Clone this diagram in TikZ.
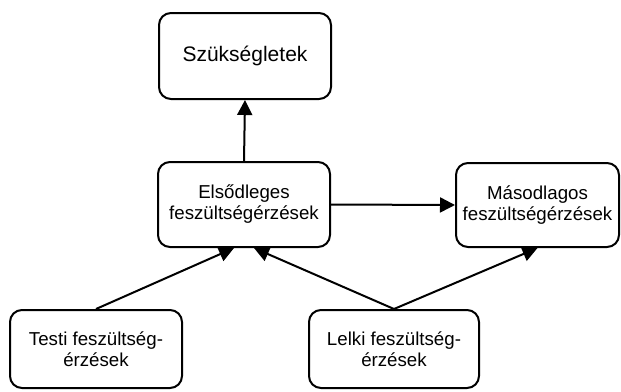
\documentclass[tikz,border=0pt]{standalone}
\usepackage{fontspec}
\setmainfont{Liberation Sans}
\usetikzlibrary{arrows.meta}

\tikzset{
    doboz/.style={draw=black, line width=2pt, rounded corners=12pt, fill=white,
        align=center, inner sep=0pt, font=\fontsize{18.7}{21}\selectfont},
    nyil/.style={line width=2pt, -{Triangle[length=15pt,width=15pt]}}
}

\begin{document}
\begin{tikzpicture}[x=1pt,y=-1pt]
    \useasboundingbox (0,0) rectangle (621,391);

    % felso sor
    \node[doboz, minimum width=172pt, minimum height=86pt, font=\fontsize{21}{24}\selectfont] (szuks) at (245,56) {Szükségletek};

    % kozepso sor
    \node[doboz, minimum width=172pt, minimum height=85pt] (elso) at (244,204.5) {Elsődleges\\feszültségérzések};
    \node[doboz, minimum width=163pt, minimum height=84pt] (masod) at (537.5,205) {Másodlagos\\feszültségérzések};

    % also sor
    \node[doboz, minimum width=172pt, minimum height=78pt] (testi) at (96,349) {Testi feszültség-\\érzések};
    \node[doboz, minimum width=170pt, minimum height=78pt] (lelki) at (394,349) {Lelki feszültség-\\érzések};

    \draw[nyil] (elso.north) -- (szuks.south);
    \draw[nyil] (elso.east) -- (masod.west);
    \draw[nyil] (testi.north) -- ([xshift=-10pt]elso.south);
    \draw[nyil] (lelki.north) -- ([xshift=10pt]elso.south);
    \draw[nyil] (lelki.north) -- (masod.south);
    %\draw[nyil] (testi.north) -- (masod.south);
\end{tikzpicture}
\end{document}
